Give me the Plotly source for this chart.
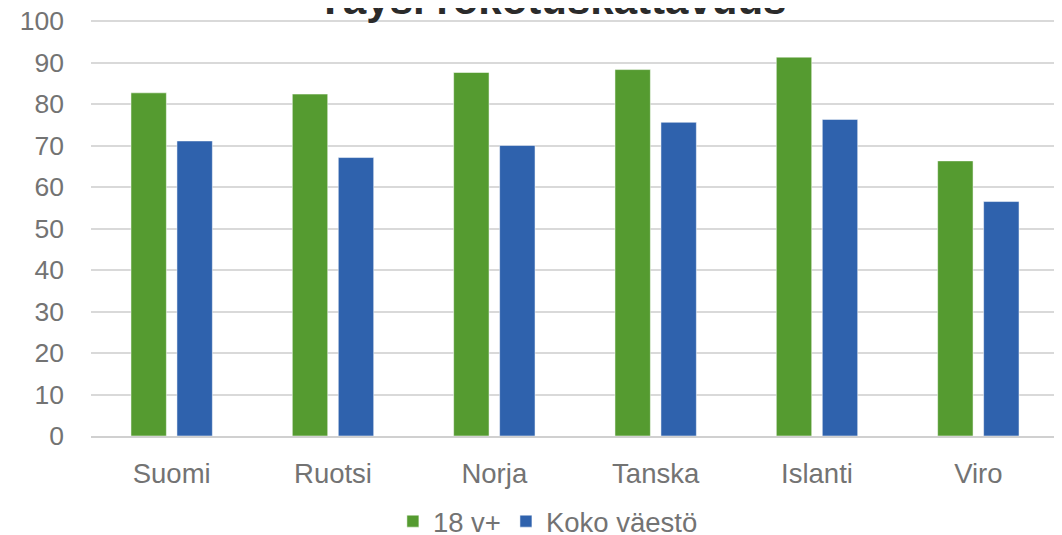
import plotly.graph_objects as go

countries = ["Suomi", "Ruotsi", "Norja", "Tanska", "Islanti", "Viro"]
adults = [82.7, 82.4, 87.6, 88.3, 91.3, 66.3]
population = [71.1, 67.1, 70.0, 75.6, 76.3, 56.5]

GREEN = "#559B30"
BLUE = "#2F62AD"
GREY = "#737373"
FONT = "Liberation Sans, Arial, sans-serif"

# the page body adds an 8px margin, so the figure is 8px smaller than the window
W, H = 1054, 527

fig = go.Figure()
fig.add_trace(go.Bar(
    x=countries, y=adults, name="18 v+",
    marker={"color": GREEN, "line": {"color": "rgba(255,255,255,0.5)", "width": 1}},
))
fig.add_trace(go.Bar(
    x=countries, y=population, name="Koko väestö",
    marker={"color": BLUE, "line": {"color": "rgba(255,255,255,0.5)", "width": 1}},
))

fig.update_layout(
    width=W,
    height=H,
    margin={"l": 83, "r": 3, "t": 12, "b": 99, "autoexpand": False},
    paper_bgcolor="white",
    plot_bgcolor="white",
    barmode="group",
    bargap=0.43,
    bargroupgap=0.23,
    font={"family": FONT, "size": 26, "color": GREY},
    title={
        "text": "<b>Täysi rokotuskattavuus</b>",
        "font": {"family": FONT, "size": 42, "color": "#2b2b2b"},
        "x": 0.516,
        "xanchor": "center",
        "y": 1 - 6 / H,
        "yanchor": "bottom",
    },
    legend={
        "orientation": "h",
        "x": 0.472,
        "xanchor": "center",
        "y": -0.205,
        "yanchor": "middle",
        "font": {"size": 27.5, "color": GREY},
        "itemwidth": 30,
    },
    showlegend=True,
)
# a hair above 100 so the top gridline is not dropped at the plot edge
fig.update_yaxes(
    range=[0, 100.25],
    tickvals=[0, 10, 20, 30, 40, 50, 60, 70, 80, 90, 100],
    automargin=False,
    ticklabeloverflow="allow",
    showgrid=True,
    gridcolor="#D9D9D9",
    gridwidth=1.5,
    zeroline=False,
    showline=False,
    ticks="",
    ticklabelstandoff=26,
    tickfont={"size": 26.5, "color": GREY},
)
fig.update_xaxes(
    automargin=False,
    showline=True,
    linecolor="#D0D0D0",
    linewidth=1.5,
    ticks="",
    ticklabelstandoff=12,
    tickfont={"size": 27.5, "color": GREY},
)

fig.write_html("out.html")
